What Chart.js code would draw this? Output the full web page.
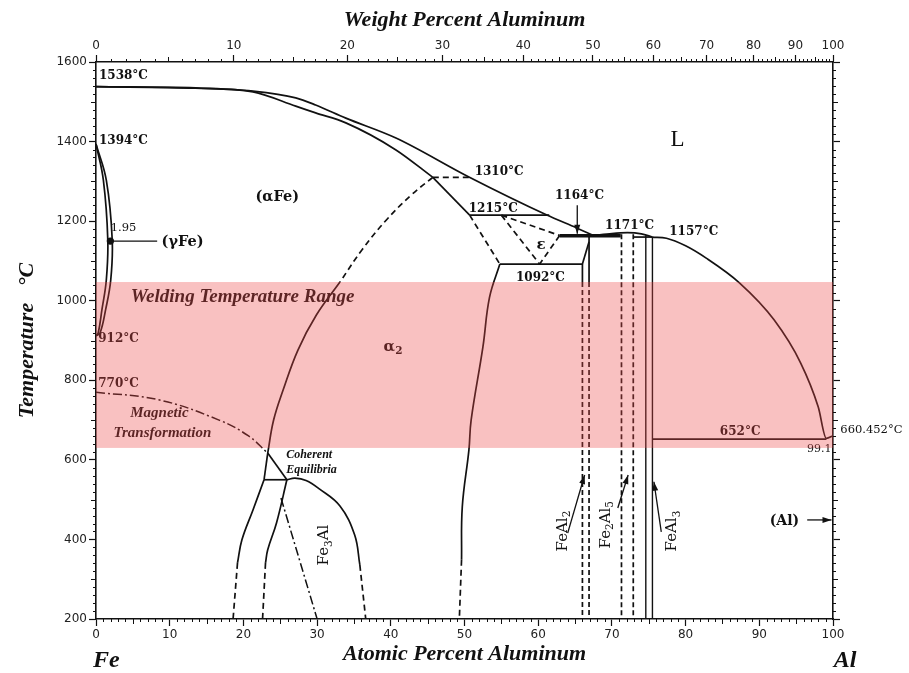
<!DOCTYPE html>
<html>
<head>
<meta charset="utf-8">
<title>Fe-Al phase diagram</title>
<script src="https://cdn.jsdelivr.net/npm/chart.js@4.4.1/dist/chart.umd.min.js"></script>
<style>
  html, body { margin: 0; padding: 0; background: #fff; }
  #wrap { width: 909px; height: 673px; }
</style>
</head>
<body>
<div id="wrap"><canvas id="c" width="909" height="673"></canvas></div>
<script>
// ---- Axis ticks -----------------------------------------------------------
const atomicTicks = [0, 10, 20, 30, 40, 50, 60, 70, 80, 90, 100];
const weightTicks = [0, 10, 20, 30, 40, 50, 60, 70, 80, 90, 100];
const temperatureTicks = [200, 400, 600, 800, 1000, 1200, 1400, 1600];

// Temperature band used for welding (°C)
const weldingRange = [630, 1047];

// ---- Phase boundaries: [atomic % Al, temperature °C] -----------------------
const liquidusFe = [[0,1538],[13.5,1535],[21.3,1527],[27.1,1510],[29.8,1492],[33.9,1459],[40.7,1409],[50.6,1311],[61.1,1216],[65.2,1183],[67.5,1164]];
const liquidusMid = [[67.5,1164],[70.0,1169],[72.1,1171],[74.0,1168],[75.5,1160]];
const liquidusAl = [[75.5,1160],[77.4,1157],[80.0,1138],[82.8,1107],[87.3,1045],[92.0,952],[95.6,844],[98.0,733],[99.1,654],[100,660.452]];
const solidusFe = [[0,1538],[13.5,1534],[21.3,1525],[27.1,1489],[29.8,1472],[33.9,1447],[40.7,1379],[45.7,1310]];

const peritectic1310 = [[45.7,1310],[50.6,1310]];
const alphaFeSolvus = [[45.7,1310],[50.7,1215]];
const peritectic1215 = [[50.7,1215],[61.5,1215]];
const feAlEdge = [[50.7,1215],[54.8,1092]];
const epsilonLeft = [[55.0,1215],[60.2,1092]];
const epsilonTop = [[55.0,1215],[62.9,1164]];
const epsilonRight = [[62.9,1164],[60.2,1092]];
const eutectoid1092 = [[54.8,1092],[66.0,1092]];
const eutectic1164 = [[62.9,1163],[71.2,1163]];
const peritectic1157 = [[72.9,1160],[75.5,1160]];
const eutectic652 = [[75.5,652],[99.1,652]];

const feAl2Slope = [[66.0,1092],[66.9,1148]];
const feAl2LeftSolid = [[66.0,1092],[66.0,1047]];
const feAl2LeftDash = [[66.0,1047],[66.0,200]];
const feAl2RightSolid = [[66.9,1163],[66.9,1047]];
const feAl2RightDash = [[66.9,1047],[66.9,200]];
const fe2Al5Left = [[71.3,1167],[71.3,200]];
const fe2Al5Right = [[72.9,1167],[72.9,200]];
const feAl3Left = [[74.6,1164],[74.6,200]];
const feAl3Right = [[75.5,1160],[75.5,200]];

const gammaLoopOuter = [[0,1394],[1.4,1303],[2.2,1153],[2.0,1052],[1.3,977],[0.55,919],[0,912]];
const gammaLoopInner = [[0,1394],[1.0,1303],[1.6,1153],[1.4,1052],[0.8,977],[0.3,919],[0,912]];
const gammaPoint = [[1.95,1150]];
const gammaLeader = [[1.95,1150],[8.3,1150]];

const b2OrderDashed = [[45.7,1310],[42.8,1266],[39.4,1203],[36.1,1128],[33.1,1047]];
const b2OrderSolid = [[33.1,1047],[29.9,964],[27.4,876],[25.4,776],[24.1,700],[23.3,617]];
const coherentStem = [[23.3,617],[22.8,550]];
const coherentEdge = [[23.3,617],[25.9,550]];
const tie550 = [[22.8,550],[25.9,550]];
const fe3AlLeftSolid = [[22.8,550],[21.3,474],[19.8,399],[19.2,341]];
const fe3AlLeftDash = [[19.2,341],[18.6,200]];
const do3InnerSolid = [[25.9,550],[24.5,442],[23.3,374],[23.0,341]];
const do3InnerDash = [[23.0,341],[22.6,200]];
const fe3AlDomeSolid = [[25.9,550],[27.0,554],[28.5,548],[30.3,527],[33.1,484],[35.1,411],[35.8,336]];
const fe3AlDomeDash = [[35.8,336],[36.6,200]];
const do3Metastable = [[25.1,504],[27.2,374],[30.0,200]];
const magnetic = [[0,770],[8.5,751],[16.7,700],[20.7,660],[23.3,617]];
const alpha2Solid = [[54.8,1092],[53.4,1009],[52.5,884],[50.9,700],[50.6,625],[49.7,482],[49.6,349]];
const alpha2Dash = [[49.6,349],[49.3,200]];

// Leader arrows (tail -> head)
const arrow1164 = [[65.3,1240],[65.3,1168]];
const arrowFeAl2 = [[64.0,416],[66.3,562]];
const arrowFe2Al5 = [[70.8,479],[72.2,562]];
const arrowFeAl3 = [[76.7,419],[75.7,545]];
const arrowAl = [[96.5,449],[99.8,449]];

// ---- Fonts -------------------------------------------------------------------
const SERIF = '"DejaVu Serif", serif';
const TIMES = '"Liberation Serif", "Times New Roman", serif';
const SANS = '"DejaVu Sans", sans-serif';
const INK = '#111';

// weight % Al -> atomic % Al
const M_AL = 26.982, M_FE = 55.845;
function weightToAtomic(w) {
  const a = w / M_AL, f = (100 - w) / M_FE;
  return 100 * a / (a + f);
}

// ---- Dataset helpers --------------------------------------------------------
const DASH = { borderDash: [6, 4] };
const DASHDOT = { borderDash: [9, 3, 2, 3] };
const SMOOTH = { tension: 0.4 };
const MONO = { cubicInterpolationMode: 'monotone' };

function boundary(points, ...styles) {
  return Object.assign({
    data: points.map(p => ({ x: p[0], y: p[1] })),
    showLine: true,
    borderColor: INK,
    backgroundColor: INK,
    borderWidth: 1.7,
    pointRadius: 0,
    pointHoverRadius: 0,
    tension: 0,
    fill: false,
    xAxisID: 'x',
    yAxisID: 'y'
  }, ...styles);
}

const datasets = [
  boundary(liquidusFe, MONO),
  boundary(liquidusMid, MONO),
  boundary(liquidusAl, MONO),
  boundary(solidusFe, MONO),
  boundary(peritectic1310, DASH),
  boundary(alphaFeSolvus),
  boundary(peritectic1215),
  boundary(feAlEdge, DASH),
  boundary(epsilonLeft, DASH),
  boundary(epsilonTop, DASH),
  boundary(epsilonRight, DASH),
  boundary(eutectoid1092),
  boundary(eutectic1164, { borderWidth: 3.5 }),
  boundary(peritectic1157),
  boundary(eutectic652),
  boundary(feAl2Slope),
  boundary(feAl2LeftSolid),
  boundary(feAl2LeftDash, { borderDash: [5, 3] }),
  boundary(feAl2RightSolid),
  boundary(feAl2RightDash, { borderDash: [5, 3] }),
  boundary(fe2Al5Left, { borderDash: [5, 3] }),
  boundary(fe2Al5Right, { borderDash: [5, 3] }),
  boundary(feAl3Left, { borderWidth: 1.4 }),
  boundary(feAl3Right, { borderWidth: 1.4 }),
  boundary(gammaLoopOuter, SMOOTH),
  boundary(gammaLoopInner, SMOOTH),
  boundary(gammaLeader, { borderWidth: 1.3 }),
  boundary(gammaPoint, { showLine: false, pointRadius: 2.8 }),
  boundary(b2OrderDashed, SMOOTH, DASH),
  boundary(b2OrderSolid, SMOOTH),
  boundary(coherentStem),
  boundary(coherentEdge),
  boundary(tie550),
  boundary(fe3AlLeftSolid, SMOOTH),
  boundary(fe3AlLeftDash, DASH),
  boundary(do3InnerSolid, SMOOTH),
  boundary(do3InnerDash, DASH),
  boundary(fe3AlDomeSolid, SMOOTH),
  boundary(fe3AlDomeDash, DASH),
  boundary(do3Metastable, DASHDOT, { borderWidth: 1.5 }),
  boundary(magnetic, SMOOTH, DASHDOT, { borderWidth: 1.5 }),
  boundary(alpha2Solid, SMOOTH),
  boundary(alpha2Dash, DASH),
  boundary(arrow1164, { borderWidth: 1.3, arrow: true }),
  boundary(arrowFeAl2, { borderWidth: 1.3, arrow: true }),
  boundary(arrowFe2Al5, { borderWidth: 1.3, arrow: true }),
  boundary(arrowFeAl3, { borderWidth: 1.3, arrow: true }),
  boundary(arrowAl, { borderWidth: 1.3, arrow: true })
];

// ---- Text labels placed in data coordinates ---------------------------------
const NUM = { family: SERIF, size: 12, weight: 'bold' };
const notes = [
  { parts: [['1538°C']], x: 0.4, y: 1566, align: 'left', ...NUM },
  { parts: [['1394°C']], x: 0.4, y: 1401, align: 'left', ...NUM },
  { parts: [['912°C']], x: 0.3, y: 903, align: 'left', ...NUM },
  { parts: [['770°C']], x: 0.3, y: 792, align: 'left', ...NUM },
  { parts: [['1.95']], x: 2.0, y: 1183, align: 'left', family: SERIF, size: 11.5 },
  { parts: [['(γFe)']], x: 8.9, y: 1146, align: 'left', family: SERIF, size: 14.5, weight: 'bold' },
  { parts: [['(αFe)']], x: 24.6, y: 1261, align: 'center', family: SERIF, size: 14.5, weight: 'bold' },
  { parts: [['1310°C']], x: 54.7, y: 1324, align: 'center', ...NUM },
  { parts: [['1215°C']], x: 53.9, y: 1231, align: 'center', ...NUM },
  { parts: [['1164°C']], x: 65.6, y: 1263, align: 'center', ...NUM },
  { parts: [['ε']], x: 60.4, y: 1140, align: 'center', family: SERIF, size: 15, weight: 'bold' },
  { parts: [['1171°C']], x: 72.4, y: 1188, align: 'center', ...NUM },
  { parts: [['1157°C']], x: 81.1, y: 1173, align: 'center', ...NUM },
  { parts: [['1092°C']], x: 60.3, y: 1057, align: 'center', ...NUM },
  { parts: [['L']], x: 78.9, y: 1404, align: 'center', family: TIMES, size: 23 },
  { parts: [['Welding Temperature Range']], x: 4.7, y: 1009, align: 'left', family: TIMES, size: 19, weight: 'bold', style: 'italic' },
  { parts: [['α'], ['2', 1]], x: 40.3, y: 884, align: 'center', family: SERIF, size: 15, weight: 'bold' },
  { parts: [['Magnetic']], x: 8.6, y: 718, align: 'center', family: TIMES, size: 15, weight: 'bold', style: 'italic' },
  { parts: [['Transformation']], x: 9.0, y: 668, align: 'center', family: TIMES, size: 15, weight: 'bold', style: 'italic' },
  { parts: [['Coherent']], x: 25.8, y: 613, align: 'left', family: TIMES, size: 12, weight: 'bold', style: 'italic' },
  { parts: [['Equilibria']], x: 25.8, y: 574, align: 'left', family: TIMES, size: 12, weight: 'bold', style: 'italic' },
  { parts: [['Fe'], ['3', 1], ['Al']], x: 31.0, y: 386, align: 'center', rot: -90, family: SERIF, size: 15 },
  { parts: [['FeAl'], ['2', 1]], x: 63.4, y: 421, align: 'center', rot: -90, family: SERIF, size: 15 },
  { parts: [['Fe'], ['2', 1], ['Al'], ['5', 1]], x: 69.2, y: 437, align: 'center', rot: -90, family: SERIF, size: 15 },
  { parts: [['FeAl'], ['3', 1]], x: 78.2, y: 421, align: 'center', rot: -90, family: SERIF, size: 15 },
  { parts: [['(Al)']], x: 93.4, y: 446, align: 'center', family: SERIF, size: 14, weight: 'bold' },
  { parts: [['652°C']], x: 87.4, y: 671, align: 'center', ...NUM },
  { parts: [['99.1']], x: 99.8, y: 627, align: 'right', family: SERIF, size: 11 },
  { parts: [['660.452°C']], x: 101.0, y: 675, align: 'left', family: SERIF, size: 11.5 }
];

function drawRich(ctx, n, px, py) {
  const font = s => `${n.style || 'normal'} ${n.weight || 'normal'} ${s}px ${n.family}`;
  ctx.save();
  ctx.translate(px, py);
  if (n.rot) ctx.rotate(n.rot * Math.PI / 180);
  ctx.fillStyle = n.color || INK;
  ctx.textBaseline = 'middle';
  ctx.textAlign = 'left';
  const widths = n.parts.map(([t, sub]) => {
    ctx.font = font(sub ? n.size * 0.7 : n.size);
    return ctx.measureText(t).width;
  });
  const total = widths.reduce((a, b) => a + b, 0);
  let x = n.align === 'left' ? 0 : n.align === 'right' ? -total : -total / 2;
  n.parts.forEach(([t, sub], i) => {
    ctx.font = font(sub ? n.size * 0.7 : n.size);
    ctx.fillText(t, x, sub ? n.size * 0.3 : 0);
    x += widths[i];
  });
  ctx.restore();
}

// Arrowheads, labels and the translucent welding band drawn over the curves
const overlay = {
  id: 'overlay',
  afterDatasetsDraw(chart) {
    const { ctx, scales, chartArea: a } = chart;
    const xs = scales.x, ys = scales.y;

    chart.data.datasets.forEach((ds, i) => {
      if (!ds.arrow) return;
      const pts = chart.getDatasetMeta(i).data;
      const p0 = pts[pts.length - 2], p1 = pts[pts.length - 1];
      const ang = Math.atan2(p1.y - p0.y, p1.x - p0.x);
      const L = 9, W = 3;
      ctx.save();
      ctx.fillStyle = INK;
      ctx.translate(p1.x, p1.y);
      ctx.rotate(ang);
      ctx.beginPath();
      ctx.moveTo(0, 0);
      ctx.lineTo(-L, -W);
      ctx.lineTo(-L, W);
      ctx.closePath();
      ctx.fill();
      ctx.restore();
    });

    notes.forEach(n => drawRich(ctx, n, xs.getPixelForValue(n.x), ys.getPixelForValue(n.y)));

    const yTop = ys.getPixelForValue(weldingRange[1]);
    const yBot = ys.getPixelForValue(weldingRange[0]);
    ctx.save();
    ctx.fillStyle = 'rgba(236, 72, 72, 0.34)';
    ctx.fillRect(a.left, yTop, a.right - a.left, yBot - yTop);
    ctx.restore();
  },
  afterDraw(chart) {
    const { ctx, scales, chartArea: a } = chart;
    // minor ticks on all four sides
    ctx.save();
    ctx.strokeStyle = INK;
    ctx.lineWidth = 1;
    ctx.beginPath();
    for (let v = 1; v < 100; v++) {
      if (v % 10 === 0) continue;
      const len = v % 5 === 0 ? 5 : 3;
      const px = Math.round(scales.x.getPixelForValue(v)) + 0.5;
      ctx.moveTo(px, a.bottom);
      ctx.lineTo(px, a.bottom + len);
      const pw = Math.round(scales.x2.getPixelForValue(weightToAtomic(v))) + 0.5;
      ctx.moveTo(pw, a.top);
      ctx.lineTo(pw, a.top - len);
    }
    for (let t = 220; t < 1600; t += 20) {
      if (t % 200 === 0) continue;
      const len = t % 100 === 0 ? 5 : 3;
      const py = Math.round(scales.y.getPixelForValue(t)) + 0.5;
      ctx.moveTo(a.left, py);
      ctx.lineTo(a.left - len, py);
      ctx.moveTo(a.right, py);
      ctx.lineTo(a.right + len, py);
    }
    ctx.stroke();

    // element symbols at the two ends of the composition axis
    ctx.fillStyle = INK;
    ctx.font = 'italic bold 24px ' + TIMES;
    ctx.textBaseline = 'middle';
    ctx.textAlign = 'left';
    ctx.fillText('Fe', scales.x.getPixelForValue(0) - 3, a.bottom + 42);
    ctx.textAlign = 'center';
    ctx.fillText('Al', scales.x.getPixelForValue(100) + 12, a.bottom + 42);
    ctx.restore();
  }
};

const tickFont = { family: SANS, size: 12 };
const titleFont = { family: TIMES, size: 22, weight: 'bold', style: 'italic' };
const axisGrid = { drawOnChartArea: false, tickLength: 7, tickColor: INK, tickWidth: 1.2 };
const axisBorder = { display: true, color: INK, width: 1.6 };
const plainLabel = v => String(v);

new Chart(document.getElementById('c'), {
  type: 'scatter',
  data: { datasets },
  plugins: [overlay],
  options: {
    responsive: false,
    animation: false,
    events: [],
    layout: { padding: 0 },
    plugins: { legend: { display: false }, tooltip: { enabled: false } },
    scales: {
      x: {
        type: 'linear', position: 'bottom', min: 0, max: 100,
        afterBuildTicks: s => { s.ticks = atomicTicks.map(v => ({ value: v })); },
        afterFit: s => { s.height = 54; },
        ticks: { font: tickFont, color: '#222', padding: 2, maxRotation: 0, autoSkip: false, callback: plainLabel },
        grid: axisGrid, border: axisBorder,
        title: { display: true, text: 'Atomic Percent Aluminum', font: titleFont, color: INK, padding: { top: 5, bottom: 5 } }
      },
      x2: {
        type: 'linear', position: 'top', min: 0, max: 100,
        afterBuildTicks: s => { s.ticks = weightTicks.map(w => ({ value: weightToAtomic(w) })); },
        afterFit: s => { s.height = 62; },
        ticks: { font: tickFont, color: '#222', padding: 2, maxRotation: 0, autoSkip: false,
                 callback: (v, i) => String(weightTicks[i]) },
        grid: axisGrid, border: axisBorder,
        title: { display: true, text: 'Weight Percent Aluminum', font: titleFont, color: INK, padding: { top: 7, bottom: 7 } }
      },
      y: {
        type: 'linear', position: 'left', min: 200, max: 1600,
        afterBuildTicks: s => { s.ticks = temperatureTicks.map(v => ({ value: v })); },
        afterFit: s => { s.width = 96; },
        ticks: { font: tickFont, color: '#222', padding: 2, autoSkip: false, callback: plainLabel },
        grid: axisGrid, border: axisBorder,
        title: { display: true, text: 'Temperature   °C', font: titleFont, color: INK, padding: { top: 14, bottom: 14 } }
      },
      y2: {
        type: 'linear', position: 'right', min: 200, max: 1600,
        afterBuildTicks: s => { s.ticks = temperatureTicks.map(v => ({ value: v })); },
        afterFit: s => { s.width = 76; },
        ticks: { display: false },
        grid: axisGrid, border: axisBorder
      }
    }
  }
});
</script>
</body>
</html>
